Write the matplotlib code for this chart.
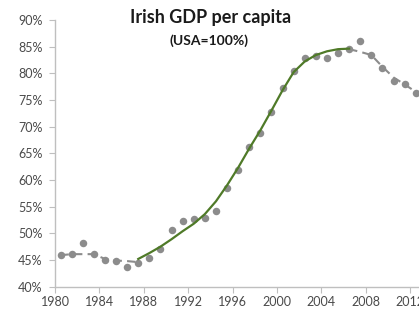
import matplotlib
matplotlib.use('Agg')
import matplotlib.pyplot as plt

# data (percent of USA GDP per capita)
years = list(range(1980, 2013))
gdp = [45.9, 46.1, 48.1, 46.1, 45.0, 44.9, 43.6, 44.5, 45.4, 47.0,
       50.7, 52.3, 52.6, 52.9, 54.2, 58.4, 61.9, 66.2, 68.8, 72.8,
       77.3, 80.4, 82.9, 83.3, 82.8, 83.7, 84.5, 86.1, 83.5, 81.0,
       78.5, 77.9, 76.3]

# dashed grey trend outside the convergence period
early_years = list(range(1980, 1988))
early_trend = [45.9, 46.1, 46.1, 46.1, 45.2, 44.9, 44.8, 44.6]
late_years = list(range(2006, 2013))
late_trend = [84.5, 84.0, 83.4, 81.2, 79.2, 77.9, 76.5]

# green convergence curve
fit_years = list(range(1987, 2007))
fit_vals = [45.2, 46.3, 47.5, 48.9, 50.4, 51.8, 53.6, 56.0, 59.0, 62.3,
            65.9, 69.3, 73.0, 76.8, 80.2, 82.2, 83.4, 84.1, 84.5, 84.6]

tick_years = list(range(1980, 2016, 4))
y_ticks = list(range(40, 95, 5))

plt.rcParams['font.family'] = ['Lato', 'DejaVu Sans']

fig = plt.figure(figsize=(4.19, 3.14), dpi=100)
ax = fig.add_axes([55 / 419, 0.0869, 377.4 / 419, 0.850])

grey = '#8c8c8c'
ax.plot(early_years, early_trend, color=grey, lw=1.5, dashes=(4, 2.5), zorder=2)
ax.plot(late_years, late_trend, color=grey, lw=1.5, dashes=(4, 2.5), zorder=2)
ax.plot(years, gdp, 'o', color=grey, ms=5.4, mec='none', zorder=3)
ax.plot(fit_years, fit_vals, color='#4f7a28', lw=1.6, solid_joinstyle='round', zorder=4)

ax.set_xlim(1979.5, 2013.5)
ax.set_ylim(40, 90)
ax.set_xticks([t - 0.5 for t in tick_years])
ax.set_xticklabels([str(t) for t in tick_years])
ax.set_yticks(y_ticks)
ax.set_yticklabels([f'{v}%' for v in y_ticks])

for s in ['top', 'right']:
    ax.spines[s].set_visible(False)
for s in ['left', 'bottom']:
    ax.spines[s].set_color('#bfbfbf')
    ax.spines[s].set_linewidth(1)
ax.tick_params(axis='both', colors='#bfbfbf', labelcolor='#4a4a4a', labelsize=9, length=4)
ax.tick_params(axis='y', pad=5)
ax.tick_params(axis='x', pad=3)

fig.text(0.502, 0.945, 'Irish GDP per capita', ha='center', va='center',
         fontsize=13, fontweight='bold', color='#1a1a1a')
fig.text(0.498, 0.872, '(USA=100%)', ha='center', va='center',
         fontsize=10, fontweight='bold', color='#1a1a1a')

fig.savefig('out.png', dpi=100)
